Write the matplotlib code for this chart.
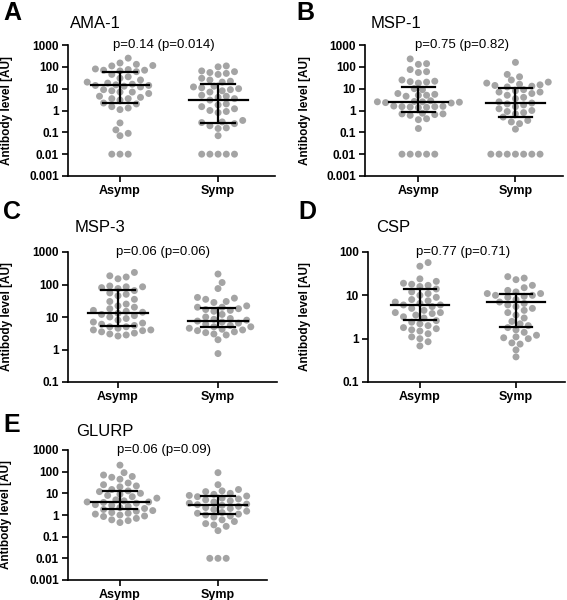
import matplotlib
matplotlib.use("Agg")
import matplotlib.pyplot as plt
import numpy as np

plt.rcParams['font.family'] = ['Liberation Sans', 'DejaVu Sans']

groups = ["Asymp", "Symp"]
antigens = ["AMA-1", "MSP-1", "MSP-3", "CSP", "GLURP"]
letters = ["A", "B", "C", "D", "E"]
p_texts = ["p=0.14 (p=0.014)", "p=0.75 (p=0.82)", "p=0.06 (p=0.06)",
           "p=0.77 (p=0.71)", "p=0.06 (p=0.09)"]

# antibody levels (AU), per antigen: asymp, symp
ama1_asymp = [250, 150, 130, 115, 110, 80, 75, 70, 70, 65, 60, 45, 35, 30, 25, 20, 18, 16,
              15, 14, 14, 13, 12, 9, 8, 7, 7, 6, 4.5, 4, 3.5, 3.5, 3, 2.2, 2, 1.5, 1.3, 1.1,
              0.27, 0.13, 0.09, 0.07, 0.01, 0.01, 0.01]
ama1_symp = [110, 100, 65, 60, 55, 50, 45, 30, 25, 22, 20, 13, 12, 11, 10, 9, 8, 7, 5, 4.5,
             4, 3.5, 3, 2, 1.8, 1.5, 1.2, 1, 0.9, 0.8, 0.35, 0.3, 0.28, 0.25, 0.2, 0.16,
             0.15, 0.07, 0.01, 0.01, 0.01, 0.01, 0.01]
msp1_asymp = [230, 140, 130, 75, 60, 55, 25, 22, 21, 20, 18, 10, 9, 6, 5.5, 5, 5, 4.5, 2.8,
              2.6, 2.5, 2.5, 2.4, 2.3, 2.2, 1.6, 1.55, 1.5, 1.5, 1.45, 1.4, 1.35, 0.75, 0.7,
              0.7, 0.65, 0.6, 0.42, 0.38, 0.15, 0.01, 0.01, 0.01, 0.01, 0.01]
msp1_symp = [160, 45, 35, 25, 20, 18, 16, 15, 14, 13, 12, 9, 8, 7, 7, 6, 5, 4, 3.5, 2.5, 2.2,
             2, 1.8, 1.5, 1.2, 1, 0.9, 0.8, 0.7, 0.5, 0.35, 0.3, 0.25, 0.14,
             0.01, 0.01, 0.01, 0.01, 0.01, 0.01, 0.01]
msp3_asymp = [235, 185, 170, 150, 90, 85, 85, 80, 75, 65, 55, 50, 45, 35, 30, 25, 22, 20, 18,
              16, 15, 14, 13, 12, 11, 10, 9, 8, 7, 6.5, 6, 5.5, 5, 5, 4.5, 4, 4, 3.8, 3.5,
              3.2, 3, 2.8, 2.6]
msp3_symp = [210, 115, 75, 40, 38, 35, 30, 28, 22, 20, 20, 18, 17, 16, 15, 12, 10, 9, 8.5, 8,
             7.5, 7, 6.5, 6, 5.5, 5, 5, 4.5, 4.2, 4, 3.8, 3.5, 3.3, 3, 2.8, 2, 0.75]
csp_asymp = [57, 47, 24, 21, 19, 18, 17, 16, 14, 12, 11, 10, 9, 8, 7.5, 7, 6.5, 6, 6, 5.5, 5,
             4.5, 4, 4, 3.8, 3.5, 3.2, 3, 2.6, 2.4, 2.2, 2, 1.8, 1.7, 1.6, 1.5, 1.3, 1.1, 1.0,
             0.85, 0.68]
csp_symp = [27, 25, 23, 17, 15, 13, 12, 11, 11, 10, 10, 9.5, 9, 8, 7, 6.5, 6, 5.5, 5, 4.5, 4,
            3.5, 3, 2.5, 2.2, 2, 1.8, 1.6, 1.4, 1.2, 1.1, 1.05, 1, 0.8, 0.75, 0.55, 0.38]
glurp_asymp = [200, 90, 70, 60, 55, 45, 30, 25, 22, 20, 15, 13, 12, 10, 9, 8, 7, 6, 5, 4.5, 4,
               4, 3.8, 3.5, 3, 2.8, 2.5, 2.2, 2, 1.8, 1.6, 1.5, 1.3, 1.2, 1.1, 1, 0.9, 0.85,
               0.7, 0.6, 0.55, 0.45]
glurp_symp = [90, 25, 15, 13, 12, 10, 9, 8, 7.5, 7, 6, 5.5, 5, 4.5, 4, 3.5, 3.2, 3, 2.8, 2.5,
              2.2, 2, 1.8, 1.5, 1.3, 1.2, 1.1, 1, 0.9, 0.8, 0.6, 0.5, 0.4, 0.35, 0.3, 0.19,
              0.01, 0.01, 0.01]

# median, lower and upper quartile bars (asymp, symp)
medians = [(14, 3.0), (2.45, 2.3), (13.7, 7.7), (6.0, 7.2), (4.1, 2.8)]
q_low = [(2.2, 0.27), (0.87, 0.48), (5.3, 4.8), (2.7, 1.9), (1.8, 1.1)]
q_high = [(58, 17), (11.5, 11), (70, 18.5), (14, 10.5), (13, 7.2)]

ylims = [(0.001, 1000), (0.001, 1000), (0.1, 1000), (0.1, 100), (0.001, 1000)]

data = [(ama1_asymp, ama1_symp), (msp1_asymp, msp1_symp), (msp3_asymp, msp3_symp),
        (csp_asymp, csp_symp), (glurp_asymp, glurp_symp)]

W, H = 567, 600
fig = plt.figure(figsize=(W / 100, H / 100), dpi=100)

# axes boxes in pixels: left, top, right, bottom ; plus x limits
boxes = [(68, 45, 275, 176), (365, 45, 563, 176), (68, 252, 277, 382),
         (368, 252, 565, 382), (68, 450, 267, 580)]
xlims = [(-0.53, 1.58), (-0.55, 1.49), (-0.5, 1.59), (-0.54, 1.51), (-0.53, 1.5)]
letter_pos = [(3, 13), (296, 13), (3, 212), (298, 212), (3, 425)]
title_pos = [(70, 24), (371, 24), (75, 228), (376, 228), (76, 432)]
ylab_x = [13, 311, 13, 311, 12]

gray = '#a4a4a4'
d_px = 8.2      # spacing between dot centres in a row
min_gap = 6.8   # dots may not come closer than this


def swarm_x(ax, x0, vals):
    """simple beeswarm: shift dots sideways so they do not overlap"""
    vals = np.asarray(vals, float)
    pix = ax.transData.transform(np.column_stack([np.full(len(vals), x0), vals]))
    ppu = ax.transData.transform([(1, 1)])[0, 0] - ax.transData.transform([(0, 1)])[0, 0]
    offs = np.zeros(len(vals))
    placed = []
    cands = [0.0]
    for k in range(1, 40):
        cands += [k * d_px / 2, -k * d_px / 2]
    for i in np.argsort(vals):
        y = pix[i, 1]
        for c in cands:
            ok = True
            for px, py in placed:
                dx, dy = c - px, y - py
                if abs(dy) < 1.5 and abs(dx) < d_px * 0.99:
                    ok = False
                    break
                if dx * dx + dy * dy < min_gap ** 2:
                    ok = False
                    break
            if ok:
                break
        placed.append((c, y))
        offs[i] = c
    return x0 + offs / ppu


for i in range(5):
    l, t, r, b = boxes[i]
    ax = fig.add_axes([l / W, 1 - b / H, (r - l) / W, (b - t) / H])
    ax.set_yscale('log')
    ax.set_ylim(*ylims[i])
    ax.set_xlim(*xlims[i])
    for j in range(2):
        vals = data[i][j]
        xs = swarm_x(ax, j, vals)
        ax.scatter(xs, vals, s=25, color=gray, edgecolors='none', zorder=2, clip_on=False)
        ax.plot([j - 0.3, j + 0.3], [medians[i][j]] * 2, color='black', lw=1.6, zorder=3)
        ax.plot([j, j], [q_low[i][j], q_high[i][j]], color='black', lw=1.6, zorder=3)
        for q in (q_low[i][j], q_high[i][j]):
            ax.plot([j - 0.17, j + 0.17], [q, q], color='black', lw=1.6, zorder=3)

    lo, hi = ylims[i]
    ticks = 10.0 ** np.arange(np.log10(lo), np.log10(hi) + 0.5)
    ax.set_yticks(ticks)
    ax.set_yticklabels([("%g" % v) for v in ticks], fontweight='bold', fontsize=8.5)
    ax.yaxis.set_minor_locator(matplotlib.ticker.NullLocator())
    ax.set_xticks([0, 1])
    ax.set_xticklabels(groups, fontweight='bold', fontsize=9)
    ax.tick_params(direction='out', length=4.5, width=1.2, pad=2)
    for s in ('top', 'right'):
        ax.spines[s].set_visible(False)
    for s in ('left', 'bottom'):
        ax.spines[s].set_linewidth(1.2)
    ax.set_ylabel("Antibody level [AU]", fontweight='bold', fontsize=8.5)
    ax.yaxis.set_label_coords(-(l - ylab_x[i]) / (r - l), 0.5)
    ax.text(0.45, hi, p_texts[i], ha='center', va='center', fontsize=9.5)

    fig.text(letter_pos[i][0] / W, 1 - letter_pos[i][1] / H, letters[i],
             fontsize=18, fontweight='bold', va='center', ha='left')
    fig.text(title_pos[i][0] / W, 1 - title_pos[i][1] / H, antigens[i],
             fontsize=12, va='center', ha='left')

fig.savefig("out.png", dpi=100)
